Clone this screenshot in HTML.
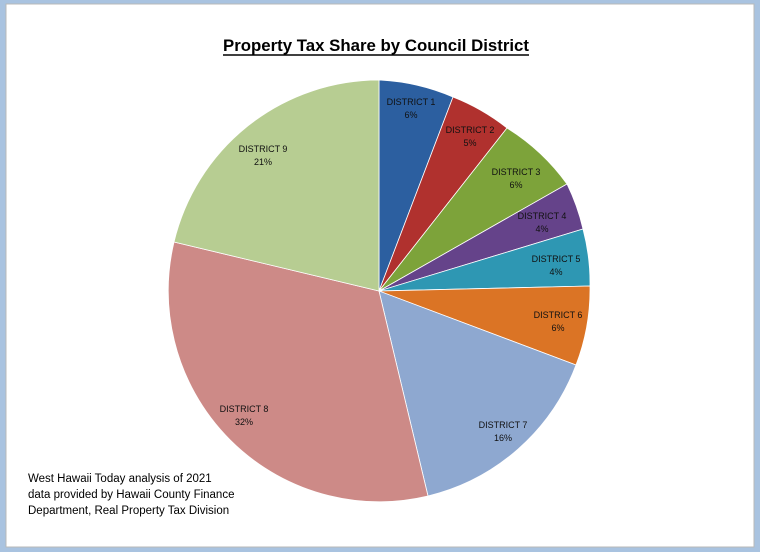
<!DOCTYPE html>
<html><head><meta charset="utf-8"><style>
body{margin:0;width:760px;height:552px;overflow:hidden;background:#fff;font-family:"Liberation Sans",sans-serif}
</style></head><body>
<svg width="760" height="552" xmlns="http://www.w3.org/2000/svg" style="display:block">
<rect x="0" y="0" width="760" height="552" fill="#a9c3e0"/>
<rect x="6" y="4" width="748" height="543" fill="#fff" stroke="#b8b8b8" stroke-width="1"/>
<text x="376" y="51" text-anchor="middle" font-family="Liberation Sans Narrow, Liberation Sans, sans-serif" font-weight="bold" font-size="17" fill="#000" textLength="306" lengthAdjust="spacingAndGlyphs">Property Tax Share by Council District</text>
<line x1="223" y1="55" x2="529" y2="55" stroke="#000" stroke-width="1.5"/>
<g stroke="#fff" stroke-width="0.8">
<path d="M379,291 L379,80 A211,211 0 0 1 453,97 Z" fill="#2c5fa0"/>
<path d="M379,291 L453,97 A211,211 0 0 1 507,128 Z" fill="#b0312e"/>
<path d="M379,291 L507,128 A211,211 0 0 1 567,184 Z" fill="#7da33a"/>
<path d="M379,291 L567,184 A211,211 0 0 1 583,229 Z" fill="#65438a"/>
<path d="M379,291 L583,229 A211,211 0 0 1 590,286 Z" fill="#2e97b3"/>
<path d="M379,291 L590,286 A211,211 0 0 1 576,365 Z" fill="#db7425"/>
<path d="M379,291 L576,365 A211,211 0 0 1 428,496 Z" fill="#8ea8d0"/>
<path d="M379,291 L428,496 A211,211 0 0 1 174,242 Z" fill="#cd8a87"/>
<path d="M379,291 L174,242 A211,211 0 0 1 379,80 Z" fill="#b7cd92"/>
</g>
<g font-size="9" fill="#111" text-anchor="middle">
<text x="411" y="105">DISTRICT 1</text><text x="411" y="118">6%</text>
<text x="470" y="133">DISTRICT 2</text><text x="470" y="146">5%</text>
<text x="516" y="175">DISTRICT 3</text><text x="516" y="188">6%</text>
<text x="542" y="219">DISTRICT 4</text><text x="542" y="232">4%</text>
<text x="556" y="262">DISTRICT 5</text><text x="556" y="275">4%</text>
<text x="558" y="318">DISTRICT 6</text><text x="558" y="331">6%</text>
<text x="503" y="428">DISTRICT 7</text><text x="503" y="441">16%</text>
<text x="244" y="412">DISTRICT 8</text><text x="244" y="425">32%</text>
<text x="263" y="152">DISTRICT 9</text><text x="263" y="165">21%</text>
</g>
<g font-size="11.5" fill="#000">
<text x="28" y="482">West Hawaii Today analysis of 2021</text>
<text x="28" y="498">data provided by Hawaii County Finance</text>
<text x="28" y="514">Department, Real Property Tax Division</text>
</g>
</svg>
</body></html>
